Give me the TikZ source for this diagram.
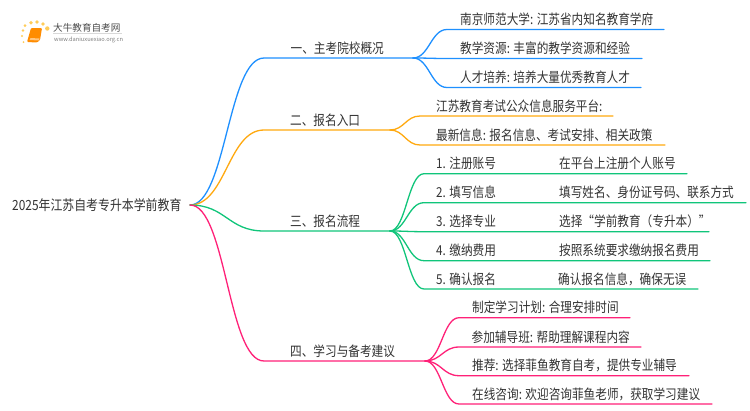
\documentclass[tikz,border=0pt]{standalone}
\usepackage{fontspec}
\setmainfont[FakeStretch=0.85]{Noto Sans CJK SC}
\newfontfamily\logofont{Noto Sans CJK SC}
\definecolor{cblue}{HTML}{1E90FF}
\definecolor{corange}{HTML}{FFA90F}
\definecolor{cgreen}{HTML}{10C57A}
\definecolor{cpink}{HTML}{FF2178}
\definecolor{ctext}{HTML}{333333}
\tikzset{
  lbl/.style={anchor=base west,inner sep=0pt,text=ctext,font=\fontsize{13.7}{15}\selectfont},
  edge/.style={line width=1.3pt,line cap=round},
  curvy/.style={to path={.. controls +(#1,0) and +(-#1,0) .. (\tikztotarget)}}
}
\begin{document}
\begin{tikzpicture}[x=1pt,y=-1pt]
\useasboundingbox (0,0) rectangle (750,410);
\fill[white] (0,0) rectangle (750,410);
% logo
\foreach \a/\b/\r in {23/30.5/1.3,25/25.7/1.5,31/22.7/1.9,37/22/1.9,43/24/1.9,47.3/28.5/2.2,22/36/1.2,23.5/42/1}
  \fill[orange!60!yellow,opacity=.65] (\a,\b) circle (\r);
\fill[orange!90!yellow,rounded corners=1pt] (31,28) -- (42,28) -- (40,40) -- (37,42.5) -- (27,42) -- cycle;
\fill[white,opacity=.5] (30.5,38) -- (39.5,38.5) -- (38.5,40.5) -- (29.5,40) -- cycle;
\node[anchor=base west,inner sep=0pt,text=black!70,font=\logofont\fontsize{9.6}{10}\selectfont] (logoa) at (53,31) {大牛教育自考网};
\node[anchor=base west,inner sep=0pt,text=black!50,font=\logofont\fontsize{5.7}{6}\selectfont] (logob) at (54,41) {www.daniuxuexiao.org.cn};
\draw[black!15,line width=.5pt] (53,33.5) -- (122,33.5);
% root and branch points
\node[lbl,font=\fontsize{14}{15}\selectfont] (root) at (12,210) {2025年江苏自考专升本学前教育};
\coordinate (o) at (190,205);
\node[lbl] (b1) at (290.5,53) {一、主考院校概况};
\node[lbl] (b2) at (290,125) {二、报名入口};
\node[lbl] (b3) at (290,226) {三、报名流程};
\node[lbl] (b4) at (290,356) {四、学习与备考建议};
\foreach \n/\y/\e in {1/58/413,2/130/390,3/231/390,4/361/425}{
  \coordinate (s\n) at (264,\y);
  \coordinate (f\n) at (\e,\y);
}
% level 2
\node[lbl] (a1) at (460,24.5) {南京师范大学: 江苏省内知名教育学府};
\node[lbl] (a2) at (460,53.5) {教学资源: 丰富的教学资源和经验};
\node[lbl] (a3) at (460,82.5) {人才培养: 培养大量优秀教育人才};
\node[lbl] (c1) at (436,111) {江苏教育考试公众信息服务平台:};
\node[lbl] (c2) at (436,140) {最新信息: 报名信息、考试安排、相关政策};
\node[lbl] (d1) at (436,168.5) {1. 注册账号};
\node[lbl] (d2) at (436,197.5) {2. 填写信息};
\node[lbl] (d3) at (436,226.5) {3. 选择专业};
\node[lbl] (d4) at (436,255.5) {4. 缴纳费用};
\node[lbl] (d5) at (436,284) {5. 确认报名};
\node[lbl] (t1) at (559,168.5) {在平台上注册个人账号};
\node[lbl] (t2) at (559,197.5) {填写姓名、身份证号码、联系方式};
\node[lbl] (t3) at (559,226.5) {选择“学前教育（专升本）”};
\node[lbl] (t4) at (559,255.5) {按照系统要求缴纳报名费用};
\node[lbl] (t5) at (558,284) {确认报名信息，确保无误};
\node[lbl] (e1) at (472,312.5) {制定学习计划: 合理安排时间};
\node[lbl] (e2) at (471.5,342) {参加辅导班: 帮助理解课程内容};
\node[lbl] (e3) at (472,370.5) {推荐: 选择菲鱼教育自考，提供专业辅导};
\node[lbl] (e4) at (472,399) {在线咨询: 欢迎咨询菲鱼老师，获取学习建议};
% connector end points
\foreach \n/\xa/\xb/\y in {a1/447/664/29.5,a2/447/642/58.5,a3/447/641/87.5,
  c1/420/613/116,c2/420/665/145,
  d1/424/687/173.7,d2/424/746/202.7,d3/424/709/231.7,d4/424/710/260.7,d5/424/698/289,
  e1/459/630/317.7,e2/459/641/347,e3/459/689/375.7,e4/459/712/404}{
  \coordinate (\n s) at (\xa,\y);
  \coordinate (\n e) at (\xb,\y);
}
% connectors
\draw[edge,cblue] (o) to[curvy=36] (s1) -- (f1);
\draw[edge,corange] (o) to[curvy=36] (s2) -- (f2);
\draw[edge,cgreen] (o) to[curvy=36] (s3) -- (f3);
\draw[edge,cpink] (o) to[curvy=36] (s4) -- (f4);
\foreach \n in {a1,a2,a3} \draw[edge,cblue] (f1) to[curvy=16] (\n s) -- (\n e);
\foreach \n in {c1,c2} \draw[edge,corange] (f2) to[curvy=14] (\n s) -- (\n e);
\foreach \n in {d1,d2,d3,d4,d5} \draw[edge,cgreen] (f3) to[curvy=16] (\n s) -- (\n e);
\foreach \n in {e1,e2,e3,e4} \draw[edge,cpink] (f4) to[curvy=16] (\n s) -- (\n e);
\end{tikzpicture}
\end{document}
